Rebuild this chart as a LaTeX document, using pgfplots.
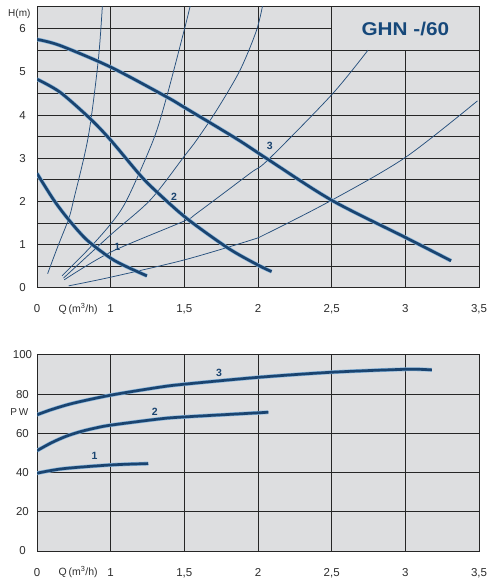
\documentclass[border=0pt]{standalone}
\usepackage{fontspec}
\setmainfont{Liberation Sans}
\usepackage{graphicx}
\usepackage{pgfplots}
\pgfplotsset{compat=1.18}
\definecolor{panelbg}{RGB}{221,222,224}
\definecolor{thickc}{RGB}{26,68,112}
\definecolor{halo}{RGB}{135,180,218}
\definecolor{thinc}{RGB}{38,80,125}
\definecolor{titlec}{RGB}{22,72,122}
\definecolor{labc}{RGB}{45,45,45}
\tikzset{lab/.style={text=thickc, font=\fontsize{10.5}{11}\selectfont\bfseries}}
\begin{document}
\begin{tikzpicture}[x=1pt,y=1pt]
\path[use as bounding box] (0,0) rectangle (495,585);
\fill[panelbg] (37,297) rectangle (479,578);
\fill[panelbg] (37,34) rectangle (479,230);
\pgfplotsset{
  common/.style={
    scale only axis, width=442pt,
    xmin=0.5, xmax=3.5,
    xtick={0.5,1,1.5,2,2.5,3,3.5},
    xticklabels={0,1,{1,5},2,{2,5},3,{3,5}},
    major tick length=0pt, minor tick length=0pt,
    axis line style={black!85, line width=1pt},
    tick label style={font=\fontsize{11.5}{12}\selectfont, text=labc},
    /pgf/number format/assume math mode=true,
    xticklabel style={anchor=base, yshift=-25pt},
    yticklabel style={anchor=center, xshift=-14.5pt},
    clip=true, clip mode=individual,
  },
  gl/.style={draw=black!85, line width=1pt, sharp plot, no marks, forget plot},
  thk/.style={thickc, line width=2.7pt, smooth, no marks},
  hal/.style={halo, line width=3.9pt, smooth, no marks},
  thn/.style={thinc, line width=0.75pt, smooth, no marks},
}
% ---------------- top chart ----------------
\begin{axis}[common, at={(37pt,297pt)}, anchor=south west, height=281pt,
  ymin=0, ymax=6.5, ytick={0,1,2,3,4,5,6}]
% grid
\addplot[gl] coordinates {(0.5,0.5) (3.5,0.5)};
\addplot[gl] coordinates {(0.5,1.0) (3.5,1.0)};
\addplot[gl] coordinates {(0.5,1.5) (3.5,1.5)};
\addplot[gl] coordinates {(0.5,2.0) (3.5,2.0)};
\addplot[gl] coordinates {(0.5,2.5) (3.5,2.5)};
\addplot[gl] coordinates {(0.5,3.0) (3.5,3.0)};
\addplot[gl] coordinates {(0.5,3.5) (3.5,3.5)};
\addplot[gl] coordinates {(0.5,4.0) (3.5,4.0)};
\addplot[gl] coordinates {(0.5,4.5) (3.5,4.5)};
\addplot[gl] coordinates {(0.5,5.0) (3.5,5.0)};
\addplot[gl] coordinates {(0.5,5.5) (3.5,5.5)};
\addplot[gl] coordinates {(0.5,6.0) (2.5,6.0)};
\addplot[gl] coordinates {(1.0,0) (1.0,6.5)};
\addplot[gl] coordinates {(1.5,0) (1.5,6.5)};
\addplot[gl] coordinates {(2.0,0) (2.0,6.5)};
\addplot[gl] coordinates {(2.5,0) (2.5,6.5)};
\addplot[gl] coordinates {(3.0,0) (3.0,5.5)};
\node[text=titlec, font=\fontsize{18.5}{19}\selectfont\bfseries] at (axis cs:3.0,5.98) {\scalebox{1.12}[1]{GHN -/60}};
% system curves
\addplot[thn] coordinates {(0.572,0.33) (0.64,0.95) (0.715,1.6) (0.749,2.04) (0.848,3.5) (0.916,5.27) (0.945,6.6)};
\addplot[thn] coordinates {(0.67,0.28) (0.85,0.9) (1.0,1.48) (1.11,2.04) (1.289,3.42) (1.38,4.42) (1.504,6.03) (1.545,6.6)};
\addplot[thn] coordinates {(0.68,0.23) (1.0,1.23) (1.27,2.04) (1.5,3.05) (1.583,3.42) (1.719,4.11) (1.877,5.03) (1.99,5.96) (2.035,6.6)};
\addplot[thn] coordinates {(0.685,0.19) (1.0,0.83) (1.5,1.55) (1.585,1.73) (1.945,2.65) (2.07,2.97) (2.5,4.47) (2.746,5.5)};
\addplot[thn] coordinates {(0.715,0.05) (1.0,0.25) (1.5,0.65) (1.945,1.1) (2.06,1.26) (2.5,2.03) (3.0,3.02) (3.49,4.33)};
% pump curves
\addplot[hal] coordinates {(0.5,2.65) (0.613,2.04) (0.715,1.58) (0.839,1.11) (1.0,0.69) (1.11,0.49) (1.246,0.28)};
\addplot[thk] coordinates {(0.5,2.65) (0.613,2.04) (0.715,1.58) (0.839,1.11) (1.0,0.69) (1.11,0.49) (1.246,0.28)};
\addplot[hal] coordinates {(0.5,4.83) (0.656,4.53) (0.86,3.92) (1.0,3.42) (1.2,2.61) (1.314,2.22) (1.516,1.61) (1.798,0.92) (2.0,0.53) (2.092,0.38)};
\addplot[thk] coordinates {(0.5,4.83) (0.656,4.53) (0.86,3.92) (1.0,3.42) (1.2,2.61) (1.314,2.22) (1.516,1.61) (1.798,0.92) (2.0,0.53) (2.092,0.38)};
\addplot[hal] coordinates {(0.5,5.75) (0.656,5.61) (1.0,5.11) (1.38,4.42) (1.504,4.17) (1.855,3.45) (2.07,2.97) (2.5,2.03) (3.0,1.17) (3.31,0.63)};
\addplot[thk] coordinates {(0.5,5.75) (0.656,5.61) (1.0,5.11) (1.38,4.42) (1.504,4.17) (1.855,3.45) (2.07,2.97) (2.5,2.03) (3.0,1.17) (3.31,0.63)};
\node[lab] at (axis cs:1.045,0.94) {1};
\node[lab] at (axis cs:1.43,2.12) {2};
\node[lab] at (axis cs:2.08,3.28) {3};
\node[text=labc, font=\fontsize{10}{10}\selectfont] at (axis description cs:-0.04,0.975) {H(m)};
\node[text=labc, font=\fontsize{10.5}{11}\selectfont, anchor=base] at ([yshift=-24.5pt]axis description cs:0.093,0) {Q\,(m\textsuperscript{3}/h)};
\end{axis}
% ---------------- bottom chart ----------------
\begin{axis}[common, at={(37pt,34pt)}, anchor=south west, height=196pt,
  ymin=0, ymax=100, ytick={0,20,40,60,80,100}]
\addplot[gl] coordinates {(0.5,20) (3.5,20)};
\addplot[gl] coordinates {(0.5,40) (3.5,40)};
\addplot[gl] coordinates {(0.5,60) (3.5,60)};
\addplot[gl] coordinates {(0.5,80) (3.5,80)};
\addplot[gl] coordinates {(1.0,0) (1.0,100)};
\addplot[gl] coordinates {(1.5,0) (1.5,100)};
\addplot[gl] coordinates {(2.0,0) (2.0,100)};
\addplot[gl] coordinates {(2.5,0) (2.5,100)};
\addplot[gl] coordinates {(3.0,0) (3.0,100)};
\addplot[hal] coordinates {(0.5,69.5) (0.6,72.2) (0.746,75.4) (1.0,79.5) (1.334,83.6) (1.5,85.1) (2.0,88.6) (2.5,91.2) (3.0,92.7) (3.18,92.4)};
\addplot[thk] coordinates {(0.5,69.5) (0.6,72.2) (0.746,75.4) (1.0,79.5) (1.334,83.6) (1.5,85.1) (2.0,88.6) (2.5,91.2) (3.0,92.7) (3.18,92.4)};
\addplot[hal] coordinates {(0.5,51.2) (0.6,55.3) (0.7,58.6) (0.8,61.0) (0.9,62.8) (1.0,64.2) (1.334,67.4) (1.5,68.4) (2.0,70.5) (2.07,70.8)};
\addplot[thk] coordinates {(0.5,51.2) (0.6,55.3) (0.7,58.6) (0.8,61.0) (0.9,62.8) (1.0,64.2) (1.334,67.4) (1.5,68.4) (2.0,70.5) (2.07,70.8)};
\addplot[hal] coordinates {(0.5,39.7) (0.678,42.0) (1.0,43.9) (1.255,44.6)};
\addplot[thk] coordinates {(0.5,39.7) (0.678,42.0) (1.0,43.9) (1.255,44.6)};
\node[lab] at (axis cs:0.89,48.3) {1};
\node[lab] at (axis cs:1.3,70.8) {2};
\node[lab] at (axis cs:1.735,90.7) {3};
\node[text=labc, font=\fontsize{10}{10}\selectfont] at (axis description cs:-0.04,0.709) {P\,W};
\node[text=labc, font=\fontsize{10.5}{11}\selectfont, anchor=base] at ([yshift=-24.5pt]axis description cs:0.093,0) {Q\,(m\textsuperscript{3}/h)};
\end{axis}
\end{tikzpicture}
\end{document}
